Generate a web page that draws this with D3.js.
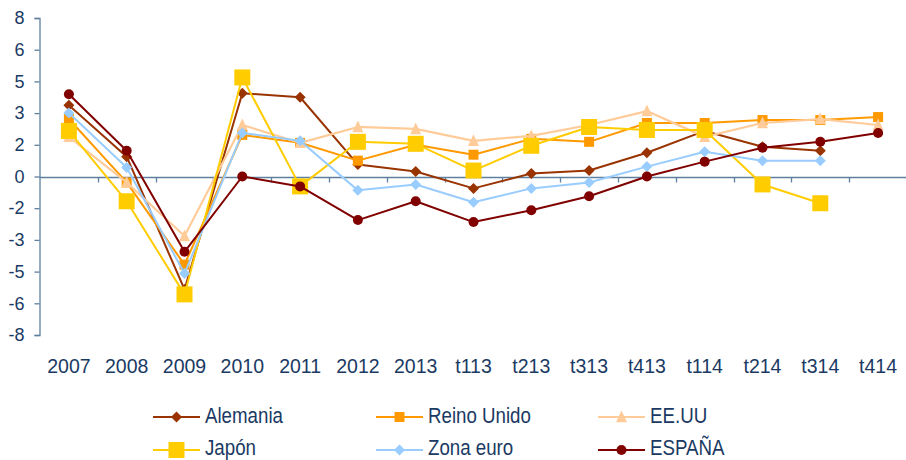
<!DOCTYPE html>
<html>
<head>
<meta charset="utf-8">
<script src="https://cdn.jsdelivr.net/npm/d3@7"></script>
<style>
  html, body { margin: 0; padding: 0; background: #fff; }
  svg { display: block; }
  text { font-family: "Liberation Sans", Arial, sans-serif; fill: #1b3a63; }
</style>
</head>
<body>
<div id="chart"></div>
<script>
const categories = ["2007","2008","2009","2010","2011","2012","2013","t113","t213","t313","t413","t114","t214","t314","t414"];

const alemania   = [3.6, 1.0, -5.7, 4.2, 4.0, 0.6, 0.25, -0.6, 0.15, 0.3, 1.2, 2.3, 1.5, 1.3, null];
const reinoUnido = [2.9, -0.3, -4.45, 2.1, 1.7, 0.8, 1.6, 1.1, 1.9, 1.75, 2.7, 2.7, 2.85, 2.85, 3.0];
const eeuu       = [2.0, -0.3, -3.0, 2.6, 1.7, 2.5, 2.4, 1.8, 2.05, 2.6, 3.3, 2.0, 2.7, 2.9, 2.6];
const japon      = [2.3, -1.25, -5.95, 5.0, -0.5, 1.75, 1.65, 0.3, 1.55, 2.5, 2.35, 2.35, -0.4, -1.35, null];
const zonaEuro   = [3.2, 0.45, -4.9, 2.2, 1.8, -0.7, -0.4, -1.3, -0.6, -0.3, 0.5, 1.25, 0.8, 0.8, null];
const espana     = [4.15, 1.3, -3.8, 0.0, -0.5, -2.2, -1.25, -2.3, -1.7, -1.0, 0.0, 0.75, 1.45, 1.75, 2.2];

const seriesNames = ["Alemania", "Reino Unido", "EE.UU", "Japón", "Zona euro", "ESPAÑA"];
const yTickValues = [-8, -6.4, -4.8, -3.2, -1.6, 0, 1.6, 3.2, 4.8, 6.4, 8];

const styles = [
  { color: "#993300", shape: "diamond", size: 11, width: 2 },
  { color: "#FF9900", shape: "square", size: 10, width: 2 },
  { color: "#FFCC99", shape: "triangle", size: 13, width: 2.2 },
  { color: "#FFCC00", shape: "square", size: 16, width: 2 },
  { color: "#99CCFF", shape: "diamond", size: 11, width: 2 },
  { color: "#800000", shape: "circle", size: 10, width: 2 }
];
const seriesValues = [alemania, reinoUnido, eeuu, japon, zonaEuro, espana];

const W = 906, H = 460;
const svg = d3.select("#chart").append("svg").attr("width", W).attr("height", H);

const x = d3.scaleBand().domain(categories).range([40, 907]).padding(0);
const y = d3.scaleLinear().domain([-8, 8]).range([335, 18]);

const axisColor = "#5f7f9f";

// Y axis
const yAxis = svg.append("g").attr("transform", "translate(39.5,0)")
  .call(d3.axisLeft(y).tickValues(yTickValues).tickSize(5).tickPadding(10)
    .tickFormat(d => String(Math.round(d) === 0 ? 0 : Math.round(d))));
yAxis.select(".domain").attr("stroke", axisColor).attr("stroke-width", 1.3);
yAxis.selectAll(".tick line").attr("stroke", axisColor).attr("stroke-width", 1.3);
yAxis.selectAll(".tick text").attr("font-size", 18).style("font-family", "Liberation Sans, Arial, sans-serif").attr("fill", "#1b3a63");

// X axis line at zero
const y0 = Math.round(y(0)) + 0.5;
const xAxis = svg.append("g").attr("transform", `translate(0,${y0})`);
xAxis.append("line").attr("x1", 39.5).attr("x2", 907).attr("y1", 0).attr("y2", 0)
  .attr("stroke", axisColor).attr("stroke-width", 1.3);
const boundaries = categories.map(c => x(c)).concat([x.range()[1]]);
xAxis.selectAll("line.tk").data(boundaries.slice(1)).join("line").attr("class", "tk")
  .attr("x1", d => Math.round(d) + 0.5).attr("x2", d => Math.round(d) + 0.5)
  .attr("y1", 0).attr("y2", 5).attr("stroke", axisColor).attr("stroke-width", 1.3);

// X labels (low position)
svg.append("g").selectAll("text").data(categories).join("text")
  .attr("x", d => x(d) + x.bandwidth() / 2)
  .attr("y", 373)
  .attr("text-anchor", "middle")
  .attr("font-size", 19.5)
  .text(d => d);

function symbolPath(shape, size) {
  const s = size / 2;
  if (shape === "diamond") return `M0,${-s}L${s},0L0,${s}L${-s},0Z`;
  if (shape === "square") return `M${-s},${-s}H${s}V${s}H${-s}Z`;
  if (shape === "triangle") return `M0,${-s}L${s * 0.85},${s * 0.8}L${-s * 0.85},${s * 0.8}Z`;
  if (shape === "circle") return `M${s},0A${s},${s} 0 1,1 ${-s},0A${s},${s} 0 1,1 ${s},0Z`;
}

const line = d3.line()
  .defined(d => d.v !== null)
  .x(d => x(d.c) + x.bandwidth() / 2)
  .y(d => y(d.v));

seriesValues.forEach((vals, i) => {
  const st = styles[i];
  const data = categories.map((c, j) => ({ c, v: vals[j] }));
  const g = svg.append("g");
  g.append("path").datum(data).attr("d", line)
    .attr("fill", "none").attr("stroke", st.color).attr("stroke-width", st.width)
    .attr("stroke-linejoin", "round");
  g.selectAll("path.m").data(data.filter(d => d.v !== null)).join("path").attr("class", "m")
    .attr("transform", d => `translate(${x(d.c) + x.bandwidth() / 2},${y(d.v)})`)
    .attr("d", symbolPath(st.shape, st.size))
    .attr("fill", st.color);
});

// Legend
const legX = [153, 376, 598];
const legRows = [417, 450];
const textBase = [423, 455];
seriesNames.forEach((name, i) => {
  const col = i % 3, row = Math.floor(i / 3);
  const st = styles[i];
  const g = svg.append("g");
  const lx = legX[col];
  g.append("line").attr("x1", lx).attr("x2", lx + 47).attr("y1", legRows[row]).attr("y2", legRows[row])
    .attr("stroke", st.color).attr("stroke-width", 2.2);
  g.append("path").attr("transform", `translate(${lx + 23.5},${legRows[row]})`)
    .attr("d", symbolPath(st.shape, st.size)).attr("fill", st.color);
  g.append("text")
    .attr("transform", `translate(${lx + 52},${textBase[row]}) scale(0.87,1)`)
    .attr("font-size", 21.5)
    .text(name);
});
</script>
</body>
</html>
